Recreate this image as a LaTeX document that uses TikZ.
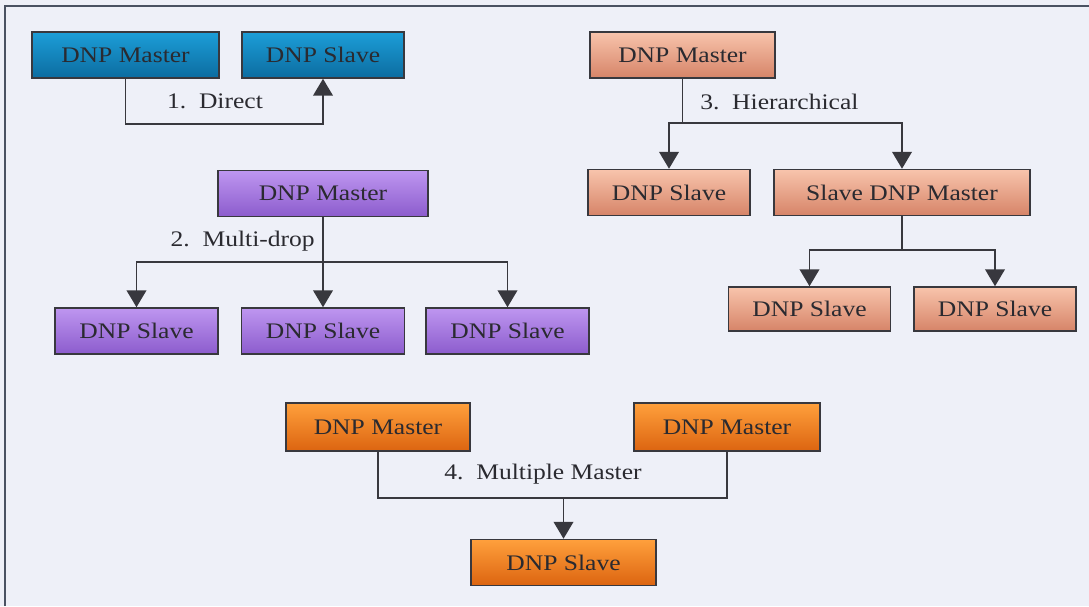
\documentclass[tikz,border=0pt]{standalone}
\usepackage{fontspec}
\setmainfont{Liberation Serif}[FakeStretch=1.15]
\usepackage{tikz}
\usetikzlibrary{arrows.meta}

\definecolor{bgpaper}{HTML}{EEF0F8}
\definecolor{frameline}{HTML}{4A5262}
\definecolor{boxline}{HTML}{38383E}
\definecolor{inktext}{HTML}{2A2A30}

\begin{document}
\begin{tikzpicture}[x=0.025cm,y=-0.025cm,font=\fontsize{15.8}{18}\selectfont]
\tikzstyle{box} = [draw=boxline, line width=1.1pt, minimum height=1.15cm, inner sep=0pt, text=inktext]
\tikzstyle{direct} = [box, top color={rgb,255:red,28;green,158;blue,216}, bottom color={rgb,255:red,12;green,108;blue,160}]
\tikzstyle{multidrop} = [box, top color={rgb,255:red,190;green,150;blue,240}, bottom color={rgb,255:red,140;green,92;blue,205}]
\tikzstyle{hier} = [box, top color={rgb,255:red,248;green,196;blue,172}, bottom color={rgb,255:red,214;green,132;blue,104}]
\tikzstyle{multimaster} = [box, top color={rgb,255:red,255;green,160;blue,60}, bottom color={rgb,255:red,220;green,100;blue,16}]
\tikzstyle{link} = [draw=boxline, line width=1.1pt]
\tikzstyle{arr} = [link, -{Triangle[width=14pt,length=12pt]}]
\tikzstyle{tag} = [text=inktext, inner sep=0pt]

\useasboundingbox[fill=bgpaper] (0,0) rectangle (1089,606);
\draw[frameline, line width=1.5pt] (5,606) -- (5,6) -- (1089,6);

% 1. direct
\node[direct, minimum width=4.675cm] (bm) at (125.5,55) {DNP Master};
\node[direct, minimum width=4.05cm] (bs) at (323,55) {DNP Slave};
\draw[arr] (bm.south) -- ++(0,45) -| (bs.south);
\node[tag] (bl) at (215,101) {1.~~Direct};

% 2. multi-drop
\node[multidrop, minimum width=5.25cm] (pm) at (323,193.5) {DNP Master};
\node[multidrop, minimum width=4.075cm] (ps1) at (136.5,331) {DNP Slave};
\node[multidrop, minimum width=4.075cm] (ps2) at (323,331) {DNP Slave};
\node[multidrop, minimum width=4.075cm] (ps3) at (507.5,331) {DNP Slave};
\coordinate (pj) at (323,262);
\draw[arr] (pm.south) -- (ps2.north);
\draw[arr] (pj) -| (ps1.north);
\draw[arr] (pj) -| (ps3.north);
\node[tag, anchor=east] (pl) at (315,241) {2.~~Multi-drop};

% 3. hierarchical
\node[hier, minimum width=4.625cm] (hm) at (682.5,55) {DNP Master};
\node[hier, minimum width=4.05cm] (hs) at (669,192.5) {DNP Slave};
\node[hier, minimum width=6.4cm] (hsm) at (902,192.5) {Slave DNP Master};
\node[hier, minimum width=4.05cm, minimum height=1.1cm] (hs1) at (809.5,309) {DNP Slave};
\node[hier, minimum width=4.05cm, minimum height=1.1cm] (hs2) at (995,309) {DNP Slave};
\coordinate (hj) at (682.5,123);
\coordinate (hk) at (902,250);
\draw[link] (hm.south) -- (hj);
\draw[arr] (hj) -| (hs.north);
\draw[arr] (hj) -| (hsm.north);
\draw[link] (hsm.south) -- (hk);
\draw[arr] (hk) -| (hs1.north);
\draw[arr] (hk) -| (hs2.north);
\node[tag, anchor=west] (hl) at (700,102) {3.~~Hierarchical};

% 4. multiple master
\node[multimaster, minimum width=4.6cm, minimum height=1.2cm] (om1) at (378,427) {DNP Master};
\node[multimaster, minimum width=4.65cm, minimum height=1.2cm] (om2) at (727,427) {DNP Master};
\node[multimaster, minimum width=4.625cm] (os) at (563.5,562.5) {DNP Slave};
\coordinate (oj) at (563.5,498);
\draw[link] (om1.south) |- (oj) -| (om2.south);
\draw[arr] (oj) -- (os.north);
\node[tag] (ol) at (543,474) {4.~~Multiple Master};
\end{tikzpicture}
\end{document}
